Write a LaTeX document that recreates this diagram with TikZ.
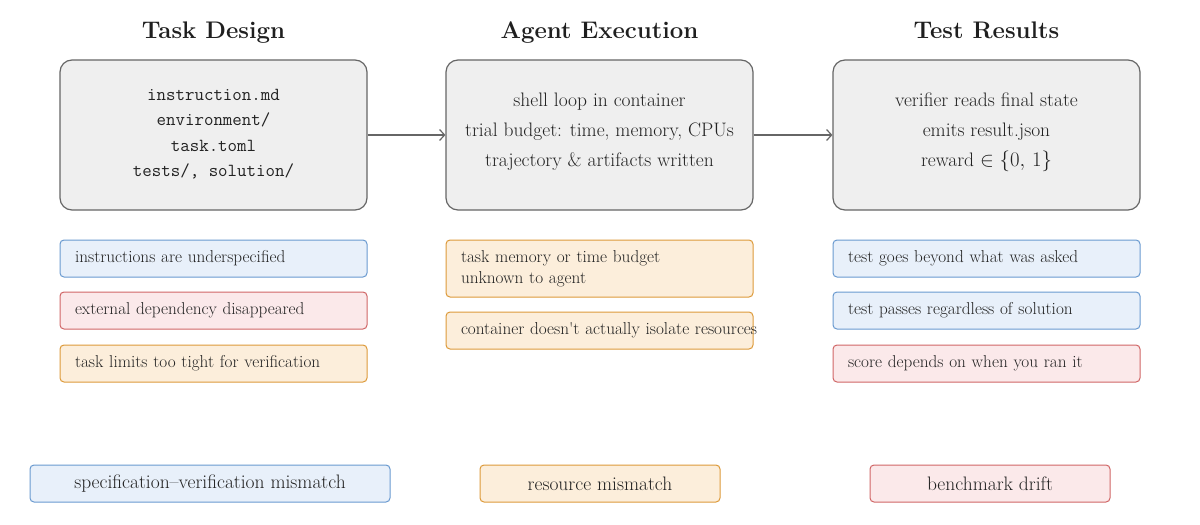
\documentclass[tikz,border=0pt]{standalone}
\usetikzlibrary{arrows.meta}
\definecolor{txt}{HTML}{222222}
\definecolor{mainfill}{HTML}{EFEFEF}
\definecolor{maindraw}{HTML}{666666}
\definecolor{bfill}{HTML}{E8F0FA}
\definecolor{bdraw}{HTML}{6A9AD0}
\definecolor{rfill}{HTML}{FBE9EA}
\definecolor{rdraw}{HTML}{D06666}
\definecolor{ofill}{HTML}{FCEEDB}
\definecolor{odraw}{HTML}{DD9A3A}
\begin{document}
\begin{tikzpicture}[x=1pt,y=-1pt,
  title/.style={font=\fontsize{24}{28}\selectfont\bfseries, text=black!88, anchor=base},
  mainbox/.style={draw=maindraw, fill=mainfill, line width=1.2pt, rounded corners=12pt,
    minimum width=307pt, minimum height=150pt},
  maintext/.style={align=center, text=txt, font=\fontsize{19.5}{30}\selectfont},
  issue/.style={rounded corners=4pt, line width=1pt, minimum height=37pt, text width=277pt,
    inner xsep=15pt, align=left, text=txt, font=\fontsize{17.2}{21}\selectfont},
  bluebox/.style={issue, draw=bdraw, fill=bfill},
  redbox/.style={issue, draw=rdraw, fill=rfill},
  orangebox/.style={issue, draw=odraw, fill=ofill},
  legend/.style={rounded corners=4pt, line width=1pt, minimum height=37pt, text=txt,
    font=\fontsize{19.5}{22}\selectfont},
  flow/.style={draw=maindraw, line width=1.2pt, -{Straight Barb[length=5pt,width=11pt]}}
]
\useasboundingbox (0,0) rectangle (1200,525);
\fill[white] (0,0) rectangle (1200,525);

\node[title] (t1) at (213.5,38) {Task Design};
\node[title] (t2) at (599.5,38) {Agent Execution};
\node[title] (t3) at (986.5,38) {Test Results};

\node[mainbox] (m1) at (213.5,135) {};
\node[mainbox] (m2) at (599.5,135) {};
\node[mainbox] (m3) at (986.5,135) {};

\node[maintext, font=\ttfamily\fontsize{18.4}{25.5}\selectfont] (m1t) at ([yshift=1pt]m1.center)
  {instruction.md\\environment/\\task.toml\\tests/, solution/};
\node[maintext] (m2t) at ([yshift=3pt]m2.center)
  {shell loop in container\\trial budget: time, memory, CPUs\\trajectory \& artifacts written};
\node[maintext] (m3t) at ([yshift=3pt]m3.center)
  {verifier reads final state\\emits result.json\\reward $\in\{0,\,1\}$};

\draw[flow] (m1.east) -- (m2.west);
\draw[flow] (m2.east) -- (m3.west);

\node[bluebox] (a1) at (213.5,258.5) {instructions are underspecified};
\node[redbox] (a2) at (213.5,310.5) {external dependency disappeared};
\node[orangebox] (a3) at (213.5,363.5) {task limits too tight for verification};

\node[orangebox, minimum height=57pt] (b1) at (599.5,268.5) {task memory or time budget\\unknown to agent};
\node[orangebox] (b2) at (599.5,330.5) {\mbox{container doesn\textquotesingle t actually isolate resources}};

\node[bluebox] (c1) at (986.5,258.5) {test goes beyond what was asked};
\node[bluebox] (c2) at (986.5,310.5) {test passes regardless of solution};
\node[redbox] (c3) at (986.5,363.5) {score depends on when you ran it};

\node[legend, draw=bdraw, fill=bfill, minimum width=360pt] (l1) at (210,483.5) {specification--verification mismatch};
\node[legend, draw=odraw, fill=ofill, minimum width=240pt] (l2) at (600,483.5) {resource mismatch};
\node[legend, draw=rdraw, fill=rfill, minimum width=240pt] (l3) at (990,483.5) {benchmark drift};
\end{tikzpicture}
\end{document}
